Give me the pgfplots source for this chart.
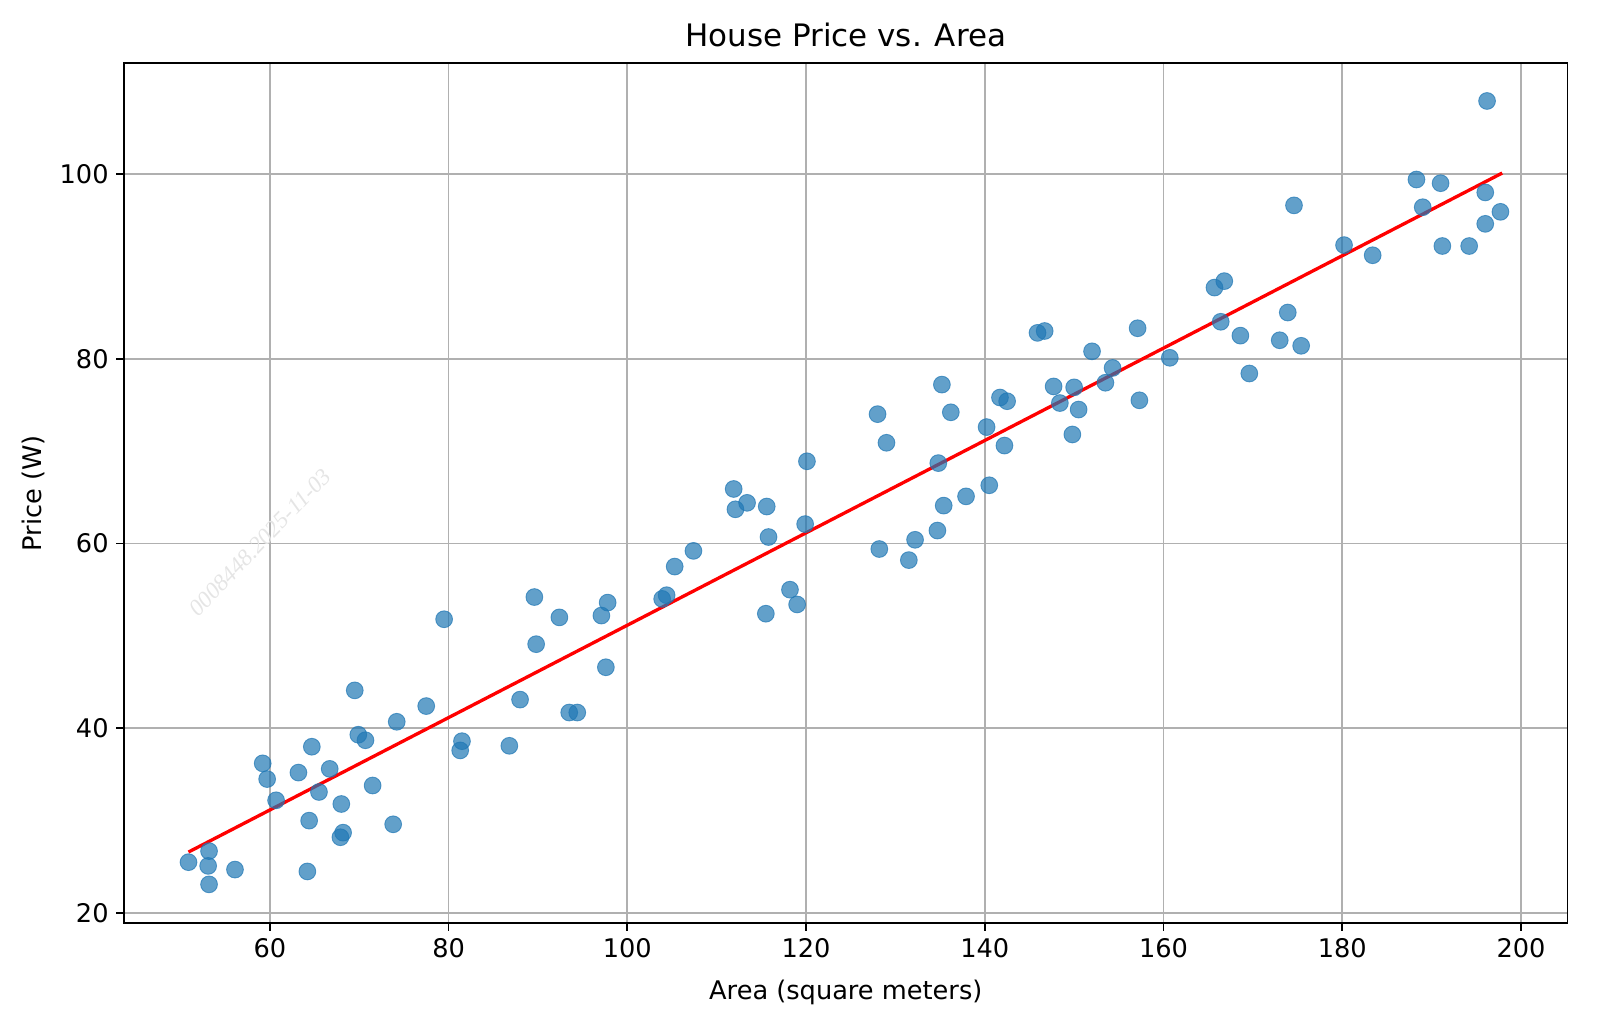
\documentclass[border=0pt]{standalone}
\usepackage{pgfplots}
\pgfplotsset{compat=1.18}
\usepackage{fontspec}
\setmainfont{DejaVu Sans}
\newfontfamily\wmfont{Liberation Serif}
\definecolor{mplblue}{HTML}{1F77B4}
\definecolor{gridgray}{HTML}{B0B0B0}
\begin{document}
\begin{tikzpicture}
\begin{axis}[
  scale only axis,
  width=9.032in, height=5.382in,
  xmin=43.7, xmax=205.2, ymin=18.9, ymax=112.0,
  xtick={60,80,...,200}, ytick={20,40,...,100},
  grid=major,
  major grid style={gridgray, line width=0.8pt},
  axis line style={line width=0.8pt, black},
  tick align=outside, tick pos=left,
  major tick length=3.5pt,
  tick style={line width=0.8pt, black},
  /pgf/number format/assume math mode=true,
  ticklabel style={font=\fontsize{11.6}{13}\selectfont},
  title={House Price vs. Area},
  title style={font=\fontsize{14}{16}\selectfont, yshift=-2pt},
  xlabel={Area (square meters)},
  ylabel={Price (W)},
  label style={font=\fontsize{11.6}{13}\selectfont},
  xlabel style={yshift=-3pt},
  ylabel style={yshift=0pt},
  clip=true,
]
\node[font=\wmfont\itshape\fontsize{10.5}{12}\selectfont, text=black!10, rotate=46] at (axis cs:58.9,60.1) {0008448.2025-11-03};
\addplot[only marks, mark=*, mark size=3.8pt, mark options={draw=mplblue, fill=mplblue, draw opacity=0.7, fill opacity=0.7}] table {
x y
50.9 25.5
53.2 26.7
53.1 25.1
53.2 23.1
56.1 24.7
59.2 36.2
59.7 34.5
60.7 32.2
63.2 35.2
64.7 38.0
64.4 30.0
64.2 24.5
65.5 33.1
66.7 35.6
68.0 31.8
67.9 28.2
68.2 28.7
69.5 44.1
69.9 39.3
70.7 38.7
71.5 33.8
73.8 29.6
74.2 40.7
77.5 42.4
79.5 51.8
81.5 38.6
81.3 37.6
86.8 38.1
88.0 43.1
89.6 54.2
89.8 49.1
92.4 52.0
93.5 41.7
94.4 41.7
97.1 52.2
97.8 53.6
97.6 46.6
103.9 54.0
104.4 54.4
105.3 57.5
107.4 59.2
111.9 65.9
112.1 63.7
113.4 64.4
115.6 64.0
115.8 60.7
115.5 52.4
118.2 55.0
119.0 53.4
119.9 62.1
120.1 68.9
128.0 74.0
128.2 59.4
129.0 70.9
131.5 58.2
132.2 60.4
134.7 61.4
134.8 68.7
135.2 77.2
135.4 64.1
136.2 74.2
137.9 65.1
140.2 72.6
140.5 66.3
141.7 75.8
142.5 75.4
142.2 70.6
145.9 82.8
146.7 83.0
147.7 77.0
148.4 75.2
149.8 71.8
150.0 76.9
150.5 74.5
152.0 80.8
153.5 77.4
154.3 79.0
157.1 83.3
157.3 75.5
160.7 80.1
165.7 87.7
166.8 88.4
166.4 84.0
168.6 82.5
169.6 78.4
173.0 82.0
173.9 85.0
174.6 96.6
175.4 81.4
180.2 92.3
183.4 91.2
188.3 99.4
189.0 96.4
191.0 99.0
191.2 92.2
194.2 92.2
196.0 98.0
196.0 94.6
196.2 107.9
197.7 95.9
};
\addplot[red, line width=1.5pt] coordinates {(50.9,26.6) (197.9,100.1)};
\end{axis}
\pgfresetboundingbox
\path (-0.777in,-0.598in) rectangle (9.223in,5.777in);
\end{tikzpicture}
\end{document}
